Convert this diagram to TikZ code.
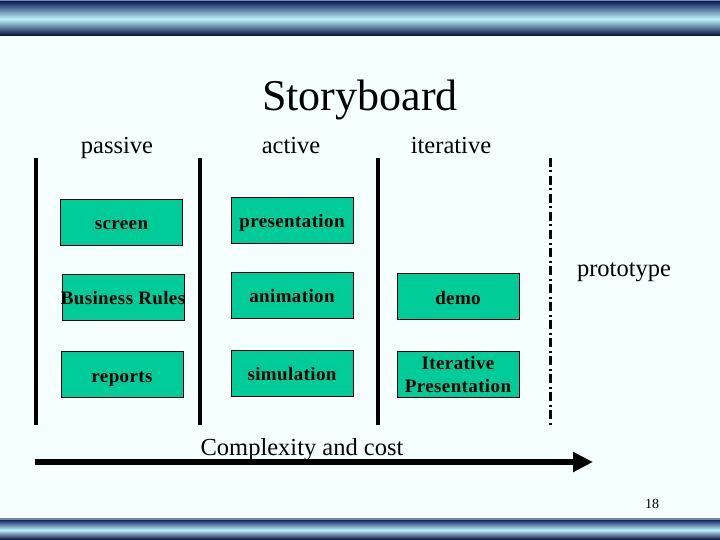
\documentclass[tikz,border=0pt]{standalone}
\usepackage{fontspec}
\setmainfont{Liberation Serif}
\usetikzlibrary{arrows.meta}
\definecolor{bgc}{RGB}{245,255,255}
\definecolor{boxc}{RGB}{0,204,153}
\definecolor{navy}{RGB}{20,40,100}
\definecolor{deepnavy}{RGB}{0,8,60}
\definecolor{lightcy}{RGB}{190,240,250}
\definecolor{barline}{RGB}{120,135,160}
\tikzset{
  boxbase/.style={draw=black, line width=0.8pt, fill=boxc, minimum width=122pt, minimum height=46pt, inner sep=0pt,
    font=\fontsize{19}{23}\selectfont\bfseries\addfontfeatures{LetterSpace=2}, align=center},
  cellbox/.style={boxbase, text height=15pt, text depth=0pt},
  header/.style={font=\fontsize{24.5}{28}\selectfont, anchor=base},
  colline/.style={line width=3.5pt, black},
  protoline/.style={line width=3pt, black, dash pattern=on 9pt off 3.5pt on 2pt off 3.5pt},
  barshade/.style={top color=navy, bottom color=deepnavy, middle color=lightcy},
}
\begin{document}
\begin{tikzpicture}[x=1pt,y=-1pt]
\useasboundingbox (0,0) rectangle (720,540);
\fill[bgc] (0,0) rectangle (720,540);
% top bar
\fill[barline] (0,0) rectangle (720,2);
\shade[barshade] (0,2) rectangle (720,36);
% bottom bar
\fill[barline] (0,518) rectangle (720,520);
\shade[barshade] (0,520) rectangle (720,540);

% title
\node[font=\fontsize{44}{50}\selectfont, anchor=base] (title) at (360,111) {Storyboard};
% headers
\node[header] (hpassive) at (117,154) {passive};
\node[header] (hactive) at (291,154) {active};
\node[header] (hiter) at (451,154) {iterative};
\node[header] (hproto) at (624,276) {prototype};

% column lines
\coordinate (l1t) at (36,158); \coordinate (l1b) at (36,425);
\coordinate (l2t) at (200,158); \coordinate (l2b) at (200,425);
\coordinate (l3t) at (378,158); \coordinate (l3b) at (378,425);
\coordinate (l4t) at (550,158); \coordinate (l4b) at (550,425);
\draw[colline] (l1t) -- (l1b);
\draw[colline] (l2t) -- (l2b);
\draw[colline] (l3t) -- (l3b);
\draw[protoline] (l4t) -- (l4b);

% boxes
\node[cellbox] (screen) at (121.5,222) {screen};
\node[cellbox] (pres) at (292,220.5) {presentation};
\node[cellbox] (busr) at (123,297) {\makebox[0pt]{Business Rules}};
\node[cellbox] (anim) at (292,295) {animation};
\node[cellbox] (demo) at (458,296.5) {demo};
\node[cellbox] (reports) at (122,374.5) {reports};
\node[cellbox] (sim) at (292,373) {simulation};
\node[boxbase] (itpres) at (458,374.5) {Iterative\\Presentation};

% complexity arrow
\node[font=\fontsize{24.5}{28}\selectfont, anchor=base] (cc) at (302,455) {Complexity and cost};
\coordinate (arrS) at (35,462);
\coordinate (arrE) at (593,462);
\draw[line width=6pt, -{Triangle[length=20pt,width=19pt]}] (arrS) -- (arrE);

% page number
\node[font=\fontsize{14}{16}\selectfont] (pnum) at (652,504) {18};
\end{tikzpicture}
\end{document}
